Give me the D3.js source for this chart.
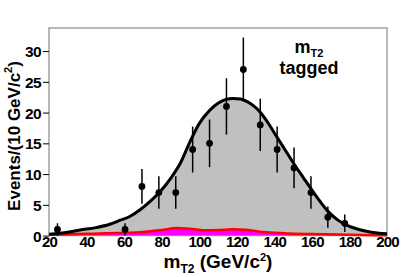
<!DOCTYPE html>
<html>
<head>
<meta charset="utf-8">
<script src="https://cdn.jsdelivr.net/npm/d3@7"></script>
<style>
  body { margin: 0; background: #fff; }
  svg text { font-family: "Liberation Sans", Arial, Helvetica, sans-serif; font-weight: bold; }
</style>
</head>
<body>
<div id="chart"></div>
<script>
// data points (bin centres, 9 GeV bins from 20 to 200)
var binCenters = [24.5, 60.5, 69.5, 78.5, 87.5, 96.5, 105.5, 114.5, 123.5, 132.5, 141.5, 150.5, 159.5, 168.5, 177.5];
var counts = [1, 1, 8, 7, 7, 14, 15, 21, 27, 18, 14, 11, 7, 3, 2];

// total fit curve (signal + background)
var fitX = [20, 30, 36.5, 45, 52, 58, 63, 68.5, 74, 79, 85, 90, 95, 100, 105.7, 110, 114, 118, 122, 126, 129, 132.4, 136.7, 141.2, 146, 151, 155.5, 160, 164.5, 168.7, 173.5, 178.5, 185, 191, 200];
var fitY = [0.2, 0.55, 0.9, 1.3, 1.8, 2.5, 3.1, 4.2, 5.6, 7.1, 9.4, 11.8, 15.2, 18.2, 20.4, 21.5, 22.1, 22.3, 22.2, 21.7, 21.1, 20.1, 18.3, 16.1, 13.8, 11.4, 9.4, 7.4, 5.5, 3.9, 2.6, 1.7, 1.0, 0.6, 0.3];

// background component
var bkgX = [20, 40, 60, 70, 80, 88, 95, 104, 110, 118, 125, 134, 145, 160, 180, 200];
var bkgY = [0.15, 0.3, 0.45, 0.6, 0.9, 1.25, 1.1, 0.85, 0.9, 1.05, 0.95, 0.6, 0.4, 0.25, 0.12, 0.05];

var yTicks = [0, 5, 10, 15, 20, 25, 30];
var xTicks = [20, 40, 60, 80, 100, 120, 140, 160, 180, 200];

var margin = { top: 28, right: 22, bottom: 41.4, left: 49 },
  width = 409 - margin.left - margin.right,
  height = 277 - margin.top - margin.bottom;

var svg = d3
  .select("#chart")
  .append("svg")
  .attr("width", 409)
  .attr("height", 277);

var g = svg
  .append("g")
  .attr("transform", "translate(" + margin.left + "," + margin.top + ")");

var x = d3.scaleLinear().domain([20, 200]).range([0, width]);
var y = d3.scaleLinear().domain([0, 33.75]).range([height, 0]);

var fitData = fitX.map(function (d, i) { return { x: d, y: fitY[i] }; });
var bkgData = bkgX.map(function (d, i) { return { x: d, y: bkgY[i] }; });

// grey filled fit
g.append("path")
  .datum(fitData)
  .attr("fill", "#c0c0c0")
  .attr("stroke", "none")
  .attr("d", d3.area()
    .x(function (d) { return x(d.x); })
    .y0(height)
    .y1(function (d) { return y(d.y); })
    .curve(d3.curveMonotoneX));

// magenta background
g.append("path")
  .datum(bkgData)
  .attr("fill", "#ff00ff")
  .attr("d", d3.area()
    .x(function (d) { return x(d.x); })
    .y0(height)
    .y1(function (d) { return y(d.y); })
    .curve(d3.curveMonotoneX));

// frame
g.append("rect")
  .attr("x", 0)
  .attr("y", 0)
  .attr("width", width)
  .attr("height", height)
  .attr("fill", "none")
  .attr("stroke", "#8a8a8a")
  .attr("stroke-width", 1.2);

g.append("path")
  .datum(bkgData)
  .attr("fill", "none")
  .attr("stroke", "#ff0000")
  .attr("stroke-width", 2.5)
  .attr("d", d3.line()
    .x(function (d) { return x(d.x); })
    .y(function (d) { return y(d.y); })
    .curve(d3.curveMonotoneX));

g.append("path")
  .datum(fitData)
  .attr("fill", "none")
  .attr("stroke", "#000")
  .attr("stroke-width", 3)
  .attr("d", d3.line()
    .x(function (d) { return x(d.x); })
    .y(function (d) { return y(d.y); })
    .curve(d3.curveMonotoneX));

// Y axis
var yAxis = g.append("g")
  .call(d3.axisLeft(y).tickValues(yTicks).tickSize(6).tickPadding(2))
  .call(function (a) { a.select(".domain").remove(); });
yAxis.selectAll("line").attr("stroke", "#000").attr("stroke-width", 1);
yAxis.selectAll("text")
  .attr("fill", "#000")
  .style("font-size", "15.5px")
  .style("letter-spacing", "-0.6px")
  .attr("dy", "0.36em");

// X axis
var xAxis = g.append("g")
  .attr("transform", "translate(0," + height + ")")
  .call(d3.axisBottom(x).tickValues(xTicks).tickSize(0).tickPadding(1))
  .call(function (a) { a.select(".domain").remove(); });
xAxis.selectAll("text")
  .attr("fill", "#000")
  .style("font-size", "15px")
  .style("letter-spacing", "-0.8px")
  .attr("dy", "0.72em");

// data points with error bars
var pts = binCenters.map(function (d, i) { return { x: d, n: counts[i] }; });
g.append("g")
  .selectAll("line")
  .data(pts)
  .enter()
  .append("line")
  .attr("x1", function (d) { return x(d.x); })
  .attr("x2", function (d) { return x(d.x); })
  .attr("y1", function (d) { return y(d.n + Math.sqrt(d.n)); })
  .attr("y2", function (d) { return y(d.n - Math.sqrt(d.n)); })
  .attr("stroke", "#000")
  .attr("stroke-width", 1.5);
g.append("g")
  .selectAll("circle")
  .data(pts)
  .enter()
  .append("circle")
  .attr("cx", function (d) { return x(d.x); })
  .attr("cy", function (d) { return y(d.n); })
  .attr("r", 3.4)
  .attr("fill", "#000");

// titles
var xt = svg.append("text")
  .attr("x", margin.left + width / 2)
  .attr("y", 268)
  .attr("text-anchor", "middle")
  .style("font-size", "19px");
xt.append("tspan").text("m");
xt.append("tspan").attr("dy", 5).style("font-size", "12px").text("T2");
xt.append("tspan").attr("dy", -5).text(" (GeV/c");
xt.append("tspan").attr("dy", -7).style("font-size", "11px").text("2");
xt.append("tspan").attr("dy", 7).text(")");

var yt = svg.append("text")
  .attr("transform", "translate(20,136) rotate(-90)")
  .attr("text-anchor", "middle")
  .style("font-size", "17px");
yt.append("tspan").text("Events/(10 GeV/c");
yt.append("tspan").attr("dy", -8).style("font-size", "11px").text("2");
yt.append("tspan").attr("dy", 8).text(")");

var lbl = svg.append("text")
  .attr("x", 309)
  .attr("y", 53)
  .attr("text-anchor", "middle")
  .style("font-size", "18px");
lbl.append("tspan").text("m");
lbl.append("tspan").attr("dy", 4).style("font-size", "11px").text("T2");
svg.append("text")
  .attr("x", 309)
  .attr("y", 74)
  .attr("text-anchor", "middle")
  .style("font-size", "18px")
  .text("tagged");
</script>
</body>
</html>
